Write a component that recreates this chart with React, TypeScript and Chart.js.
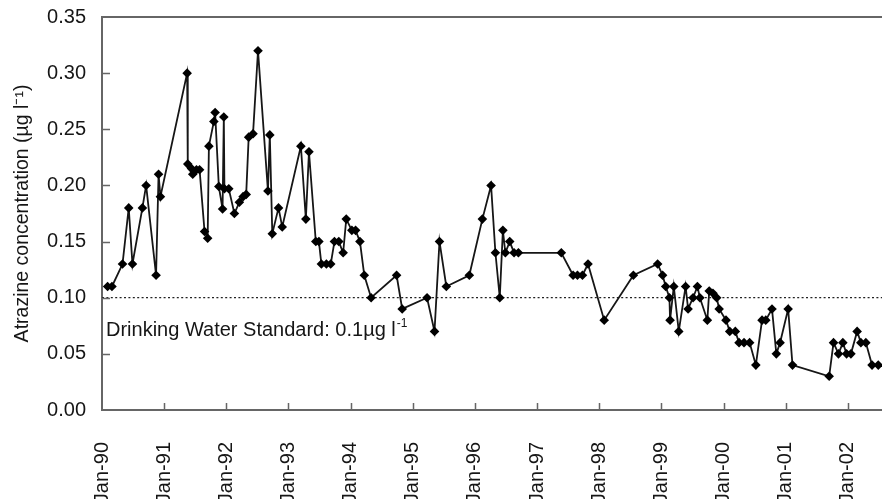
import React, { useEffect, useRef } from 'react';
import { Chart, registerables } from 'chart.js';

Chart.register(...registerables);

// Sample dates as decimal years
const sampleYears: number[] = [
  1990.09, 1990.16, 1990.33, 1990.43, 1990.49, 1990.65, 1990.71, 1990.87, 1990.91, 1990.94,
  1991.37, 1991.38, 1991.44, 1991.46, 1991.52, 1991.57, 1991.65, 1991.70, 1991.72, 1991.80,
  1991.82, 1991.88, 1991.94, 1991.96, 1991.97, 1992.04, 1992.13, 1992.21, 1992.27, 1992.32,
  1992.36, 1992.43, 1992.51, 1992.67, 1992.70, 1992.74, 1992.84, 1992.90, 1993.20, 1993.28,
  1993.33, 1993.44, 1993.49, 1993.53, 1993.61, 1993.68, 1993.74, 1993.81, 1993.88, 1993.93,
  1994.02, 1994.08, 1994.15, 1994.22, 1994.33, 1994.74, 1994.83, 1995.23, 1995.35, 1995.43,
  1995.54, 1995.91, 1996.12, 1996.26, 1996.33, 1996.40, 1996.45, 1996.49, 1996.56, 1996.63,
  1996.70, 1997.39, 1997.58, 1997.65, 1997.73, 1997.82, 1998.08, 1998.55, 1998.94, 1999.02,
  1999.07, 1999.13, 1999.14, 1999.20, 1999.28, 1999.39, 1999.43, 1999.51, 1999.58, 1999.62,
  1999.74, 1999.77, 1999.83, 1999.89, 1999.93, 2000.04, 2000.10, 2000.19, 2000.25, 2000.33,
  2000.42, 2000.52, 2000.62, 2000.68, 2000.78, 2000.85, 2000.91, 2001.04, 2001.11, 2001.70,
  2001.77, 2001.85, 2001.92, 2001.98, 2002.05, 2002.15, 2002.21, 2002.29, 2002.39, 2002.49,
];

// Atrazine concentration (µg l-1)
const atrazine: number[] = [
  0.11, 0.11, 0.13, 0.18, 0.13, 0.18, 0.20, 0.12, 0.21, 0.19,
  0.30, 0.219, 0.215, 0.21, 0.214, 0.214, 0.159, 0.153, 0.235, 0.257,
  0.265, 0.199, 0.179, 0.261, 0.197, 0.197, 0.175, 0.185, 0.19, 0.192,
  0.243, 0.246, 0.32, 0.195, 0.245, 0.157, 0.18, 0.163, 0.235, 0.17,
  0.23, 0.15, 0.15, 0.13, 0.13, 0.13, 0.15, 0.15, 0.14, 0.17,
  0.16, 0.16, 0.15, 0.12, 0.10, 0.12, 0.09, 0.10, 0.07, 0.15,
  0.11, 0.12, 0.17, 0.20, 0.14, 0.10, 0.16, 0.14, 0.15, 0.14,
  0.14, 0.14, 0.12, 0.12, 0.12, 0.13, 0.08, 0.12, 0.13, 0.12,
  0.11, 0.10, 0.08, 0.11, 0.07, 0.11, 0.09, 0.10, 0.11, 0.10,
  0.08, 0.106, 0.104, 0.10, 0.09, 0.08, 0.07, 0.07, 0.06, 0.06,
  0.06, 0.04, 0.08, 0.08, 0.09, 0.05, 0.06, 0.09, 0.04, 0.03,
  0.06, 0.05, 0.06, 0.05, 0.05, 0.07, 0.06, 0.06, 0.04, 0.04,
];

const yearTicks: number[] = [1990, 1991, 1992, 1993, 1994, 1995, 1996, 1997, 1998, 1999, 2000, 2001, 2002];
const valueTicks: number[] = [0, 0.05, 0.1, 0.15, 0.2, 0.25, 0.3, 0.35];
const standardLine: number[] = [0.1, 0.1];
const standardYears: number[] = [1990, 2002.55];
const xRange: number[] = [1990, 2002.55];
const yRange: number[] = [0, 0.35];

const FONT = "'Liberation Sans', Arial, Helvetica, sans-serif";
const AXIS = '#666666';
const INK = '#161616';

const framePlugin = {
  id: 'frameAndNote',
  afterDraw(chart: any) {
    const { ctx, chartArea, scales } = chart;
    const { left, right, top, bottom } = chartArea;
    const xs = scales.x;
    const ys = scales.y;
    ctx.save();
    ctx.strokeStyle = AXIS;
    ctx.lineWidth = 2;
    ctx.beginPath();
    ctx.moveTo(left - 1, top);
    ctx.lineTo(right, top);
    ctx.stroke();
    ctx.lineWidth = 1.5;
    ctx.beginPath();
    xs.ticks.forEach((t: any) => {
      const px = Math.round(xs.getPixelForValue(t.value)) + 0.5;
      if (t.value === xRange[0]) return;
      ctx.moveTo(px, bottom);
      ctx.lineTo(px, bottom - 7);
    });
    ys.ticks.forEach((t: any) => {
      const py = Math.round(ys.getPixelForValue(t.value)) + 0.5;
      if (t.value === yRange[0] || t.value === yRange[1]) return;
      ctx.moveTo(left, py);
      ctx.lineTo(left + 8, py);
    });
    ctx.stroke();

    // annotation text
    const refY = ys.getPixelForValue(standardLine[0]);
    const main = 'Drinking Water Standard: 0.1µg l';
    ctx.fillStyle = INK;
    ctx.font = `20px ${FONT}`;
    ctx.textBaseline = 'alphabetic';
    ctx.textAlign = 'left';
    const tx = left + 4;
    const ty = refY + 38;
    ctx.fillText(main, tx, ty);
    const w = ctx.measureText(main).width;
    ctx.font = `12px ${FONT}`;
    ctx.fillText('-1', tx + w + 1, ty - 9);
    ctx.restore();
  },
};

export default function App() {
  const canvasRef = useRef<HTMLCanvasElement | null>(null);

  useEffect(() => {
    document.body.style.margin = '0';
    const canvas = canvasRef.current;
    if (!canvas) return;
    const points = sampleYears.map((x, i) => ({ x, y: atrazine[i] }));
    const stdPoints = standardYears.map((x, i) => ({ x, y: standardLine[i] }));

    const chart = new Chart(canvas, {
      type: 'scatter',
      data: {
        datasets: [
          {
            label: 'Drinking Water Standard',
            data: stdPoints,
            showLine: true,
            borderColor: '#222222',
            borderWidth: 1.3,
            borderDash: [2, 2.4],
            pointRadius: 0,
            pointHoverRadius: 0,
            order: 2,
          },
          {
            label: 'Atrazine',
            data: points,
            showLine: true,
            borderColor: INK,
            borderWidth: 1.8,
            pointStyle: 'rectRot',
            pointRadius: 4.8,
            pointBackgroundColor: '#000000',
            pointBorderColor: '#000000',
            pointBorderWidth: 0,
            order: 1,
          },
        ],
      },
      options: {
        animation: false,
        responsive: true,
        maintainAspectRatio: false,
        layout: { autoPadding: false, padding: { top: 17, right: 0, bottom: 0, left: 0 } },
        plugins: {
          legend: { display: false },
          tooltip: { enabled: false },
        },
        scales: {
          x: {
            type: 'linear',
            min: xRange[0],
            max: xRange[1],
            afterBuildTicks: (scale: any) => {
              scale.ticks = yearTicks.map((v) => ({ value: v }));
            },
            afterFit: (scale: any) => {
              scale.height = 89;
              scale.paddingLeft = 0;
              scale.paddingRight = 0;
            },
            grid: { display: false, drawTicks: false },
            border: { display: true, color: AXIS, width: 2 },
            ticks: {
              autoSkip: false,
              minRotation: 90,
              maxRotation: 90,
              padding: 32,
              color: INK,
              font: { family: FONT, size: 20 },
              callback: (v: any) => 'Jan-' + String(Number(v) % 100).padStart(2, '0'),
            },
          },
          y: {
            type: 'linear',
            min: yRange[0],
            max: yRange[1],
            afterBuildTicks: (scale: any) => {
              scale.ticks = valueTicks.map((v) => ({ value: v }));
            },
            afterFit: (scale: any) => {
              scale.width = 102;
              scale.paddingTop = 0;
              scale.paddingBottom = 0;
            },
            grid: { display: false, drawTicks: false },
            border: { display: true, color: AXIS, width: 2 },
            ticks: {
              padding: 16,
              color: INK,
              font: { family: FONT, size: 20 },
              callback: (v: any) => Number(v).toFixed(2),
            },
            title: {
              display: true,
              text: 'Atrazine concentration (µg l⁻¹)',
              color: INK,
              font: { family: FONT, size: 19.5 },
              padding: { top: 11, bottom: 0 },
            },
          },
        },
      },
      plugins: [framePlugin],
    });
    return () => chart.destroy();
  }, []);

  return (
    <div style={{ width: 882, height: 499, position: 'relative' }}>
      <canvas ref={canvasRef} />
    </div>
  );
}
